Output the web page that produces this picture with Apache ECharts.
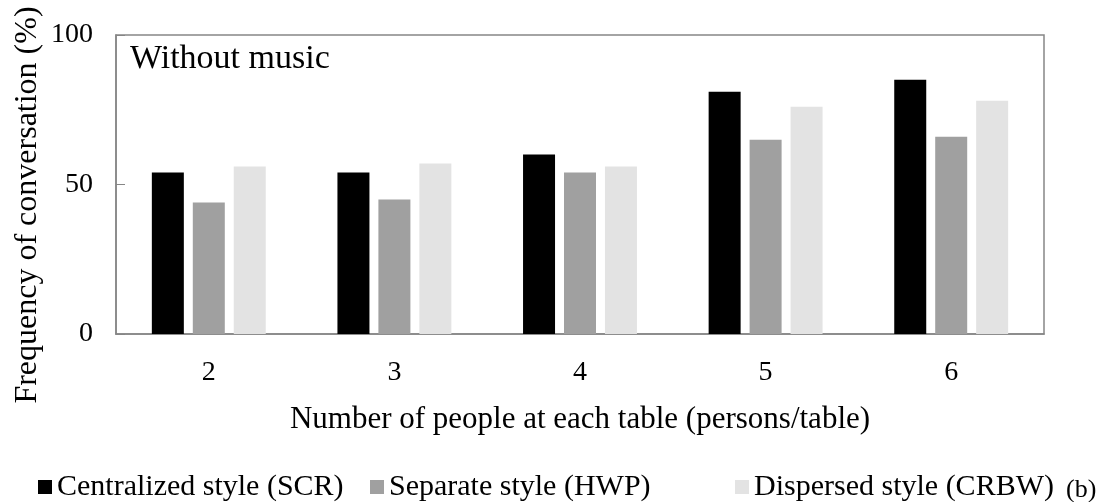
<!DOCTYPE html>
<html>
<head>
<meta charset="utf-8">
<script src="https://cdn.jsdelivr.net/npm/echarts@6/dist/echarts.min.js"></script>
<style>
  html, body { margin: 0; padding: 0; background: #fff; }
  #chart { width: 1102px; height: 502px; }
</style>
</head>
<body>
<div id="chart"></div>
<script>
// people per table
const categories = ['2', '3', '4', '5', '6']
const centralized = [54, 54, 60, 81, 85]
const separate = [44, 45, 54, 65, 66]
const dispersed = [56, 57, 56, 76, 78]
const yTicks = [0, 50, 100]
const seriesNames = ['Centralized style (SCR)', 'Separate style (HWP)', 'Dispersed style (CRBW)']

const font = 'Liberation Serif, Times New Roman, serif'
const chart = echarts.init(document.getElementById('chart'))

// one legend per item so each can sit where the original puts it
const legendLefts = [33, 365, 730]
const legends = seriesNames.map((name, i) => ({
  left: legendLefts[i],
  top: 467,
  itemWidth: 14,
  itemHeight: 14,
  itemGap: 0,
  icon: 'rect',
  textStyle: { fontFamily: font, fontSize: 30, color: '#000' },
  data: [name]
}))

chart.setOption({
  animation: false,
  grid: {
    left: 116,
    right: 58,
    top: 35,
    bottom: 168,
    outerBoundsMode: 'none',
    show: true,
    borderColor: '#868686',
    borderWidth: 1.5
  },
  legend: legends,
  xAxis: {
    type: 'category',
    data: categories,
    name: 'Number of people at each table (persons/table)',
    nameLocation: 'middle',
    nameGap: 70,
    nameTextStyle: { fontFamily: font, fontSize: 31, color: '#000' },
    axisLine: { lineStyle: { color: '#868686', width: 1.5 } },
    axisTick: { show: false },
    axisLabel: { fontFamily: font, fontSize: 28, color: '#000', margin: 25 }
  },
  yAxis: {
    type: 'value',
    min: yTicks[0],
    max: yTicks[yTicks.length - 1],
    interval: 50,
    splitLine: { show: false },
    axisLine: { show: true, lineStyle: { color: '#868686', width: 1.5 } },
    axisTick: { show: true, inside: true, length: 9, lineStyle: { color: '#868686' } },
    axisLabel: { fontFamily: font, fontSize: 28, color: '#000', margin: 23 }
  },
  graphic: [
    {
      type: 'text',
      x: 28,
      y: 205,
      rotation: Math.PI / 2,
      style: {
        text: 'Frequency of conversation (%)',
        font: '32px ' + font,
        fill: '#000',
        align: 'center',
        verticalAlign: 'middle'
      }
    },
    {
      type: 'text',
      left: 130,
      top: 42,
      style: { text: 'Without music', font: '34px ' + font, fill: '#000' }
    },
    {
      type: 'text',
      left: 1066,
      top: 477,
      style: { text: '(b)', font: '26px ' + font, fill: '#000' }
    }
  ],
  series: [
    {
      name: seriesNames[0],
      type: 'bar',
      data: centralized,
      barWidth: 32,
      barGap: '28%',
      itemStyle: { color: '#000' }
    },
    {
      name: seriesNames[1],
      type: 'bar',
      data: separate,
      barWidth: 32,
      itemStyle: { color: '#a0a0a0' }
    },
    {
      name: seriesNames[2],
      type: 'bar',
      data: dispersed,
      barWidth: 32,
      itemStyle: { color: '#e3e3e3' }
    }
  ]
})
</script>
</body>
</html>
